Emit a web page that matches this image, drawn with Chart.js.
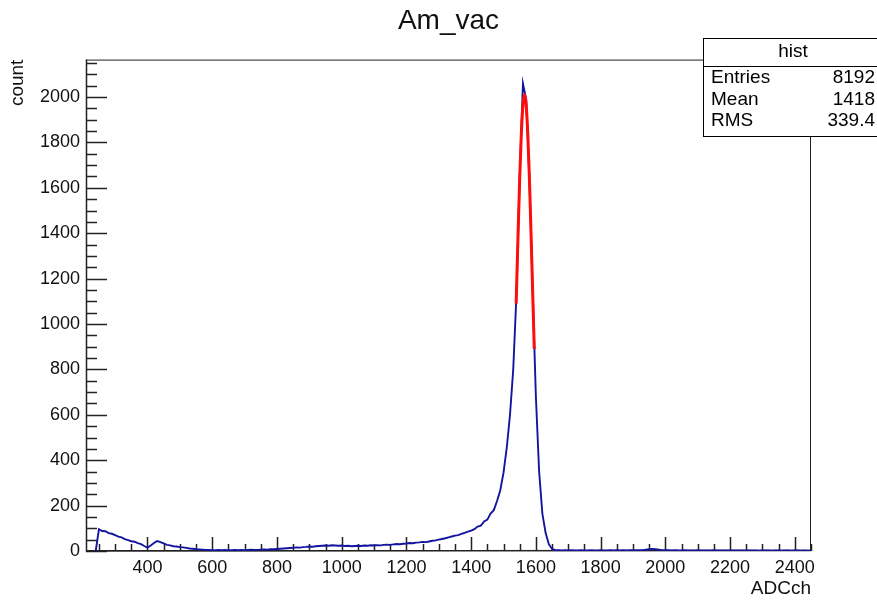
<!DOCTYPE html>
<html>
<head>
<meta charset="utf-8">
<script src="https://cdn.jsdelivr.net/npm/chart.js@4"></script>
<style>
  html, body { margin: 0; padding: 0; background: #fff; }
</style>
</head>
<body>
<canvas id="myChart" width="877" height="600"></canvas>
<script>
// histogram "hist" : bin centres start at 240, one value every 10 ADC channels
const chStart = 240;
const chStep = 10;
const counts = [
  0,
  96, 88, 87, 79, 76,
  70, 63, 60, 52, 48, 43, 41, 35, 30, 22,           // 300
  15, 24, 35, 44, 39, 34, 27, 25, 21, 20,           // 400
  17, 16, 14, 11, 10, 8, 7, 6, 5, 5,                // 500
  4, 4, 5, 4, 5, 3, 4, 5, 4, 5,                     // 600
  4, 5, 6, 5, 5, 6, 7, 6, 8, 8,                     // 700
  9, 10, 11, 12, 13, 14, 16, 15, 17, 18,            // 800
  20, 19, 21, 22, 23, 24, 23, 25, 24, 23,           // 900
  24, 22, 23, 21, 22, 23, 22, 24, 23, 25,           // 1000
  24, 26, 25, 27, 28, 27, 29, 31, 30, 32,           // 1100
  33, 35, 34, 37, 38, 40, 39, 42, 45, 47,           // 1200
  50, 53, 56, 60, 64, 68, 70, 75, 80, 85,           // 1300
  90, 96, 108, 112, 130, 138, 165, 180, 220, 268,   // 1400
  345, 455, 600, 800, 1130, 1650, 2060, 1990, 1640, 1150, // 1500
  680, 350, 165, 80, 30, 9, 4, 3, 2, 3,             // 1600
  2, 3, 2, 2, 3, 2, 2, 3, 2, 2,                     // 1700
  3, 2, 2, 3, 2, 3, 2, 3, 2, 3,                     // 1800
  3, 3, 4, 4, 6, 8, 9, 8, 6, 4,                     // 1900
  3, 3, 2, 3, 2, 2, 3, 2, 2, 2,                     // 2000
  3, 2, 2, 2, 2, 3, 2, 2, 2, 2,                     // 2100
  2, 2, 2, 2, 2, 2, 2, 2, 2, 1,                     // 2200
  2, 2, 2, 1, 2, 2, 1, 2, 2, 1,                     // 2300
  2, 2, 1, 2, 1, 1                                  // 2400
];

// gaus fit drawn in red over the peak
const fitCh  = [1539, 1545, 1550, 1555, 1560, 1565, 1570, 1575, 1580, 1585, 1590, 1595];
const fitVal = [1090, 1400, 1641, 1837, 1966, 2011, 1966, 1837, 1641, 1400, 1142, 890];

const xTicks = [400, 600, 800, 1000, 1200, 1400, 1600, 1800, 2000, 2200, 2400];
const yTicks = [0, 200, 400, 600, 800, 1000, 1200, 1400, 1600, 1800, 2000];

const statsTitle = 'hist';
const statsNames = ['Entries', 'Mean', 'RMS'];
const statsValues = ['8192', '1418', '339.4'];

const FONT = '"Liberation Sans", Arial, Helvetica, sans-serif';
Chart.defaults.font.family = FONT;
Chart.defaults.color = '#111';

// ROOT style frame with ticks pointing inwards
const framePlugin = {
  id: 'frame',
  beforeDatasetsDraw(chart) {
    const ctx = chart.ctx;
    const a = chart.chartArea;
    const xs = chart.scales.x, ys = chart.scales.y;
    ctx.save();
    ctx.strokeStyle = '#222';
    ctx.lineWidth = 1;
    ctx.strokeRect(a.left + 0.5, a.top + 0.5, a.right - a.left - 1, a.bottom - a.top - 1);
    ctx.lineWidth = 1.5;
    ctx.beginPath();
    for (let v = 0; v <= ys.max; v += 50) {
      const y = Math.round(ys.getPixelForValue(v)) + 0.5;
      const len = v % 200 === 0 ? 21 : 11;
      ctx.moveTo(a.left, y);
      ctx.lineTo(a.left + len, y);
    }
    for (let v = 250; v <= xs.max; v += 50) {
      const x = Math.round(xs.getPixelForValue(v)) + 0.5;
      const len = v % 200 === 0 ? 14 : 7;
      ctx.moveTo(x, a.bottom);
      ctx.lineTo(x, a.bottom - len);
    }
    ctx.stroke();
    ctx.beginPath();
    ctx.moveTo(a.left + 0.5, a.top);
    ctx.lineTo(a.left + 0.5, a.bottom);
    ctx.lineTo(a.right, a.bottom - 0.5);
    ctx.stroke();
    ctx.restore();
  }
};

const statsPlugin = {
  id: 'stats',
  afterDraw(chart) {
    const ctx = chart.ctx;
    const bx = 703, by = 38, bw = 185, bh = 98;
    ctx.save();
    ctx.fillStyle = '#fff';
    ctx.fillRect(bx, by, bw, bh);
    ctx.strokeStyle = '#000';
    ctx.lineWidth = 1;
    ctx.strokeRect(bx + 0.5, by + 0.5, bw, bh);
    ctx.beginPath();
    ctx.moveTo(bx, 66.5);
    ctx.lineTo(bx + bw, 66.5);
    ctx.stroke();
    ctx.font = '19px ' + FONT;
    ctx.fillStyle = '#000';
    ctx.textBaseline = 'middle';
    ctx.textAlign = 'center';
    ctx.fillText(statsTitle, 793, 52);
    const rows = [78, 100, 120.5];
    statsNames.forEach((n, i) => {
      ctx.textAlign = 'left';
      ctx.fillText(n, 711, rows[i]);
      ctx.textAlign = 'right';
      ctx.fillText(statsValues[i], 875, rows[i]);
    });
    ctx.restore();
  }
};

const ctx = document.getElementById('myChart');
const chart = new Chart(ctx, {
  type: 'line',
  data: {
    datasets: [{
      label: 'fit',
      data: fitCh.map((c, i) => ({ x: c, y: fitVal[i] })),
      borderColor: '#ff0d0d',
      borderWidth: 3,
      pointRadius: 0,
      cubicInterpolationMode: 'monotone',
      fill: false,
      order: 0
    }, {
      label: 'hist',
      data: counts.map((c, i) => ({ x: chStart + i * chStep, y: c })),
      borderColor: '#1414a0',
      borderWidth: 1.9,
      pointRadius: 0,
      tension: 0,
      fill: false,
      order: 1
    }]
  },
  options: {
    responsive: false,
    animation: false,
    layout: { padding: { left: 0, right: 66, top: 0, bottom: 0 } },
    plugins: {
      legend: { display: false },
      tooltip: { enabled: false },
      title: {
        display: true,
        text: 'Am_vac',
        fullSize: false,
        color: '#111',
        font: { size: 28, weight: 'normal' },
        padding: { top: 4, bottom: 22 }
      }
    },
    scales: {
      x: {
        type: 'linear',
        min: 210,
        max: 2450,
        border: { display: false },
        grid: { display: false, drawTicks: false },
        ticks: { padding: 6, maxRotation: 0, font: { size: 18 }, color: '#111', callback: v => v },
        afterBuildTicks: s => { s.ticks = xTicks.map(v => ({ value: v })); },
        afterFit: s => { s.height = 49; },
        title: { display: true, text: 'ADCch', align: 'end', color: '#111', font: { size: 19 }, padding: { top: 0, bottom: 0 } }
      },
      y: {
        min: 0,
        max: 2165,
        border: { display: false },
        grid: { display: false, drawTicks: false },
        ticks: { padding: 6, font: { size: 18 }, color: '#111', callback: v => v },
        afterBuildTicks: s => { s.ticks = yTicks.map(v => ({ value: v })); },
        afterFit: s => { s.width = 86; },
        title: { display: true, text: 'count', align: 'end', color: '#111', font: { size: 19 }, padding: { top: 6, bottom: 0 } }
      }
    }
  },
  plugins: [framePlugin, statsPlugin]
});
</script>
</body>
</html>
